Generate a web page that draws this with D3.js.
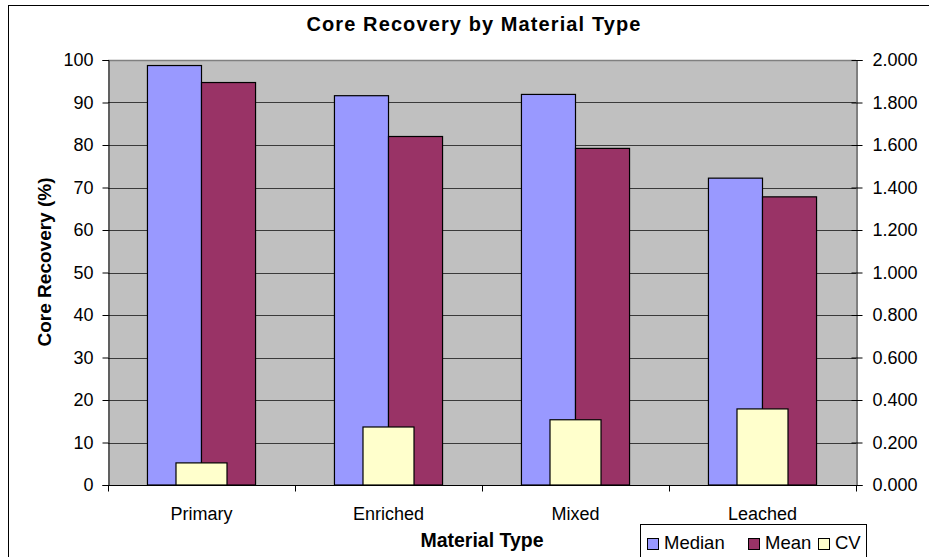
<!DOCTYPE html>
<html><head><meta charset="utf-8">
<script src="https://cdn.jsdelivr.net/npm/d3@7"></script>
<style>
html,body{margin:0;padding:0;background:#fff;}
svg text{font-family:"Liberation Sans",Arial,sans-serif;fill:#000;}
</style></head>
<body><svg id="c" width="929" height="557"></svg>
<script>
const categories = ["Primary", "Enriched", "Mixed", "Leached"];
const median = [98.7, 91.6, 91.9, 72.2];
const mean = [94.7, 82.0, 79.2, 67.8];
const cv = [0.104, 0.273, 0.307, 0.358];
const leftTicks = [0,10,20,30,40,50,60,70,80,90,100];
const rightTicks = [0,0.2,0.4,0.6,0.8,1.0,1.2,1.4,1.6,1.8,2.0];
const seriesNames = ["Median", "Mean", "CV"];
const colors = {Median:"#9999FF", Mean:"#993366", CV:"#FFFFCC"};

const svg = d3.select("#c");
const L = 108, R = 856, T = 60, B = 485;

// outer border
svg.append("rect").attr("x",8.5).attr("y",5.5).attr("width",940).attr("height",600)
  .attr("fill","#fff").attr("stroke","#000").attr("stroke-width",1);

const x0 = d3.scaleBand().domain(categories).range([L, R]).padding(0);
const x1 = d3.scaleBand().domain(["Median","Mean"]).range([0, x0.bandwidth()]).paddingInner(0).paddingOuter(0.73);
const x2 = d3.scaleBand().domain(["CV"]).range([0, x0.bandwidth()]).paddingInner(0).paddingOuter(1.333);
const yL = d3.scaleLinear().domain([0,100]).range([B, T]);
const yR = d3.scaleLinear().domain([0,2]).range([B, T]);

// plot background
svg.append("rect").attr("x",L).attr("y",T).attr("width",R-L).attr("height",B-T).attr("fill","#C0C0C0");

// gridlines
svg.append("g").selectAll("line").data(leftTicks.filter(d=>d>0)).join("line")
  .attr("x1",L).attr("x2",R).attr("y1",d=>Math.round(yL(d))+0.5).attr("y2",d=>Math.round(yL(d))+0.5)
  .attr("stroke",d=>d===100?"#808080":"#3a3a3a").attr("stroke-width",d=>d===100?1.5:1);

// bars
const g = svg.append("g");
categories.forEach((c,i)=>{
  const vals = {Median:median[i], Mean:mean[i]};
  ["Median","Mean"].forEach(s=>{
    g.append("rect").attr("x",x0(c)+x1(s)).attr("width",x1.bandwidth())
      .attr("y",yL(vals[s])).attr("height",B-yL(vals[s]))
      .attr("fill",colors[s]).attr("stroke","#000").attr("stroke-width",1.2);
  });
});
categories.forEach((c,i)=>{
  g.append("rect").attr("x",x0(c)+x2("CV")).attr("width",x2.bandwidth())
    .attr("y",yR(cv[i])).attr("height",B-yR(cv[i]))
    .attr("fill",colors.CV).attr("stroke","#000").attr("stroke-width",1.2);
});

// left axis
const axL = d3.axisLeft(yL).tickValues(leftTicks).tickSize(6).tickPadding(9).tickFormat(d3.format("d"));
const gL = svg.append("g").attr("transform",`translate(${L+0.5},0)`).call(axL);
gL.select(".domain").attr("stroke","#000");
gL.selectAll("text").attr("font-size",18).style("font-family","Liberation Sans, Arial, sans-serif");

// right axis
const axR = d3.axisRight(yR).tickValues(rightTicks).tickSize(6).tickPadding(10).tickFormat(d3.format(".3f"));
const gR = svg.append("g").attr("transform",`translate(${R+0.5},0)`).call(axR);
gR.select(".domain").attr("stroke","#000");
gR.selectAll(".tick line").attr("x1",-5);
gR.selectAll("text").attr("font-size",18).style("font-family","Liberation Sans, Arial, sans-serif");

// bottom axis
const gB = svg.append("g").attr("transform",`translate(0,${B+0.5})`);
gB.append("line").attr("x1",L).attr("x2",R+1).attr("stroke","#000");
const bounds = categories.map(c=>x0(c)).concat([R]);
gB.selectAll("line.tk").data(bounds).join("line").attr("class","tk")
  .attr("x1",d=>Math.round(d)+0.5).attr("x2",d=>Math.round(d)+0.5).attr("y1",0).attr("y2",6).attr("stroke","#000");
gB.selectAll("text").data(categories).join("text")
  .attr("x",d=>x0(d)+x0.bandwidth()/2).attr("y",34).attr("text-anchor","middle")
  .attr("font-size",18).text(d=>d);

// title
svg.append("text").attr("x",474).attr("y",31).attr("text-anchor","middle")
  .attr("font-size",20).attr("font-weight","bold").attr("letter-spacing",1.1)
  .text("Core Recovery by Material Type");
// axis titles
svg.append("text").attr("x",482).attr("y",547).attr("text-anchor","middle")
  .attr("font-size",19.5).attr("font-weight","bold").text("Material Type");
svg.append("text").attr("transform","translate(51,262) rotate(-90)").attr("text-anchor","middle")
  .attr("font-size",19).attr("font-weight","bold").text("Core Recovery (%)");

// legend
const lg = svg.append("g");
lg.append("rect").attr("x",640.5).attr("y",524.5).attr("width",226).attr("height",60)
  .attr("fill","#fff").attr("stroke","#000");
const legX = {Median:647, Mean:748, CV:818};
seriesNames.forEach(s=>{
  lg.append("rect").attr("x",legX[s]+0.5).attr("y",538.5).attr("width",11).attr("height",11)
    .attr("fill",colors[s]).attr("stroke","#000");
  lg.append("text").attr("x",legX[s]+17).attr("y",549).attr("font-size",18.5).text(s);
});
</script></body></html>
